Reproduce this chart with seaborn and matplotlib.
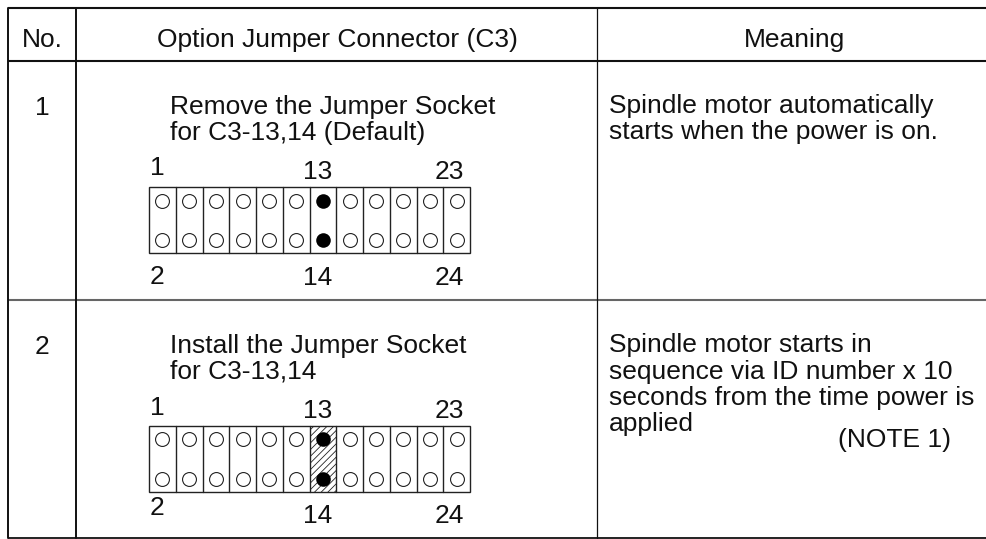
import numpy as np
import pandas as pd
import matplotlib
matplotlib.use("Agg")
import matplotlib.pyplot as plt
from matplotlib.patches import Rectangle
import seaborn as sns

sns.set_theme(style="white")
plt.rcParams['font.family'] = ['Liberation Sans', 'DejaVu Sans']
plt.rcParams['hatch.linewidth'] = 0.6

headers = ["No.", "Option Jumper Connector (C3)", "Meaning"]
row_numbers = ["1", "2"]
row_titles = ["Remove the Jumper Socket\nfor C3-13,14 (Default)",
              "Install the Jumper Socket\nfor C3-13,14"]
row_meanings = [["Spindle motor automatically", "starts when the power is on."],
                ["Spindle motor starts in", "sequence via ID number x 10",
                 "seconds from the time power is", "applied"]]
note = "(NOTE 1)"
pin_columns = list(range(12))
jumper_column = 6
top_labels = ["1", "13", "23"]
bottom_labels = ["2", "14", "24"]
label_columns = [0, 6, 11]

fig = plt.figure(figsize=(9.86, 5.39), dpi=100)
ax = fig.add_axes([0, 0, 1, 1])
ax.set_xlim(0, 986)
ax.set_ylim(539, 0)
ax.axis("off")

# table grid, in pixels of the reference
left, col1, col2, right = 8, 75.5, 597, 986
top, head, mid, bottom = 7.5, 60.5, 300, 537.5
ink = "#111111"
for y, lw, col in [(top, 1.5, ink), (head, 1.5, ink), (mid, 1.5, "#666666"), (bottom, 1.3, ink)]:
    ax.plot([left, right], [y, y], color=col, lw=lw, solid_capstyle="butt")
ax.plot([left, left], [top, bottom], color=ink, lw=1.4)
ax.plot([col1, col1], [top, bottom], color=ink, lw=1.4)
ax.plot([col2, col2], [top, bottom], color=ink, lw=0.9)

fs = 19
ax.text(42, 40, headers[0], ha="center", va="center", fontsize=fs, color=ink)
ax.text(337, 40, headers[1], ha="center", va="center", fontsize=fs, color=ink)
ax.text(795, 40, headers[2], ha="center", va="center", fontsize=fs, color=ink)

box_left, cell_w, box_h = 149, 26.75, 66
box_tops = [187, 425.5]
hole_offsets = [13.5, 53]
title_tops = [95, 334]
meaning_baselines = [113, 352]
number_y = [108, 347]
top_label_y = [[168, 172, 172], [408, 411, 411]]
bottom_label_y = [[277, 278, 278], [508, 516, 516]]
label_dx = [-5, -5, -7]
spacing = 1.09
line_step = 26.5

for r in range(2):
    ax.text(42, number_y[r], row_numbers[r], ha="center", va="center", fontsize=fs, color=ink)
    ax.text(170, title_tops[r], row_titles[r], ha="left", va="top", fontsize=fs,
            linespacing=spacing, color=ink)
    for i, line in enumerate(row_meanings[r]):
        ax.text(609, meaning_baselines[r] + i * line_step, line, ha="left", va="baseline",
                fontsize=fs, color=ink)

    y0 = box_tops[r]
    if r == 1:
        ax.add_patch(Rectangle((box_left + jumper_column * cell_w, y0), cell_w, box_h,
                               facecolor="white", edgecolor="#222222", hatch="/////", lw=0, zorder=1))
    ax.add_patch(Rectangle((box_left, y0), cell_w * len(pin_columns), box_h, fill=False,
                           edgecolor="#222222", lw=1, zorder=2))
    for c in pin_columns[1:]:
        x = box_left + c * cell_w
        ax.plot([x, x], [y0, y0 + box_h], color="#222222", lw=1, zorder=2)

    # pin holes
    pins = pd.DataFrame({
        "x": [box_left + (c + 0.5) * cell_w for c in pin_columns for _ in hole_offsets],
        "y": [y0 + dy for c in pin_columns for dy in hole_offsets],
        "jumper": [c == jumper_column for c in pin_columns for _ in hole_offsets],
    })
    sns.scatterplot(data=pins[~pins.jumper], x="x", y="y", ax=ax, s=100, facecolor="white",
                    edgecolor="#222222", linewidth=0.8, legend=False, zorder=3)
    sns.scatterplot(data=pins[pins.jumper], x="x", y="y", ax=ax, s=110, color="black",
                    edgecolor="black", linewidth=0, legend=False, zorder=3)

    for i, c in enumerate(label_columns):
        x = box_left + (c + 0.5) * cell_w + label_dx[i]
        ax.text(x, top_label_y[r][i], top_labels[i], ha="center", va="center", fontsize=fs, color=ink)
        ax.text(x, bottom_label_y[r][i], bottom_labels[i], ha="center", va="center", fontsize=fs, color=ink)

ax.text(838, 440, note, ha="left", va="center", fontsize=fs, color=ink)
ax.set_xlabel("")
ax.set_ylabel("")
ax.set_xlim(0, 986)
ax.set_ylim(539, 0)
fig.savefig("out.png", dpi=100)
